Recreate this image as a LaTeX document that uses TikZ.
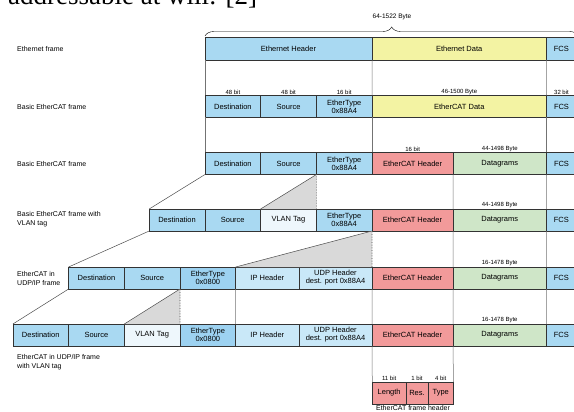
\documentclass[tikz,border=0pt]{standalone}
\usepackage{fontspec}
\setmainfont{Liberation Sans}
\newfontfamily\citefont{Liberation Serif}
\usetikzlibrary{positioning,decorations.pathreplacing}

\definecolor{ethblue}{HTML}{A9D9F2}
\definecolor{typeblue}{HTML}{9DD2F1}
\definecolor{ipblue}{HTML}{C9E8F8}
\definecolor{vlanblue}{HTML}{EEF7FC}
\definecolor{ethyellow}{HTML}{F3F3A3}
\definecolor{ecatred}{HTML}{F29A9A}
\definecolor{dgreen}{HTML}{CFE6C8}

\begin{document}
\begin{tikzpicture}[x=1pt,y=-1pt,node distance=0pt,
  box/.style={draw=black!80,line width=0.7pt,minimum height=22pt,inner sep=0.5pt,
    outer sep=0pt,align=center,font=\fontsize{7.5}{8}\selectfont},
  hdr/.style={box,fill=ethblue},
  etype/.style={box,fill=typeblue},
  ip/.style={box,fill=ipblue},
  vlan/.style={box,fill=vlanblue},
  dat/.style={box,fill=ethyellow},
  ecat/.style={box,fill=ecatred},
  dgram/.style={box,fill=dgreen},
  bits/.style={inner sep=0.8pt,font=\fontsize{6}{6}\selectfont},
  lbl/.style={anchor=west,inner sep=0pt,align=left,font=\fontsize{7}{9}\selectfont},
  link/.style={black!55,line width=0.5pt},
  slant/.style={black!70,line width=0.5pt},
  wedge/.style={fill=black!15},
  dots/.style={black!70,line width=0.6pt,densely dotted}]

  \useasboundingbox (0,0) rectangle (574,412);

  % text of the page above the figure
  \node[anchor=base west,inner sep=0pt,font=\citefont\fontsize{27}{27}\selectfont] (cite) at (8,5) {addressable at will: [2]};

  % Ethernet frame
  \node[hdr,minimum width=167,minimum height=22.5] (eh1) at (205,37.5) [anchor=north west] {Ethernet Header};
  \node[dat,minimum width=174.4,minimum height=22.5] (ed1) [right=of eh1] {Ethernet Data};
  \node[hdr,minimum width=30,minimum height=22.5] (f1) [right=of ed1] {FCS};

  \draw[decorate,decoration={brace,amplitude=9pt}] ([yshift=1.5pt]eh1.north west) -- ([shift={(2,-1.5)}]f1.north east);
  \node[bits,font=\fontsize{6.5}{6.5}\selectfont] (len) at (392,16.5) {64-1522 Byte};

  % basic EtherCAT frame
  \node[hdr,minimum width=55.7] (d2) at (205,95.5) [anchor=north west] {Destination};
  \node[hdr,minimum width=55.7] (s2) [right=of d2] {Source};
  \node[hdr,minimum width=55.7] (t2) [right=of s2] {EtherType\\0x88A4};
  \node[dat,minimum width=174.4] (dat2) [right=of t2] {EtherCAT Data};
  \node[hdr,minimum width=30] (f2) [right=of dat2] {FCS};

  \node[bits] (b2d) [above=of d2] {48 bit};
  \node[bits] (b2s) [above=of s2] {48 bit};
  \node[bits] (b2t) [above=of t2] {16 bit};
  \node[bits] (b2dat) [above=of dat2] {46-1500 Byte};
  \node[bits] (b2f) [above=of f2] {32 bit};

  % basic EtherCAT frame, header and datagrams
  \node[hdr,minimum width=55.7] (d3) at (205,152.5) [anchor=north west] {Destination};
  \node[hdr,minimum width=55.7] (s3) [right=of d3] {Source};
  \node[hdr,minimum width=55.7] (t3) [right=of s3] {EtherType\\0x88A4};
  \node[ecat,minimum width=81] (eh3) [right=of t3] {EtherCAT Header};
  \node[dgram,minimum width=93.4] (dg3) [right=of eh3] {Datagrams};
  \node[hdr,minimum width=30] (f3) [right=of dg3] {FCS};

  \node[bits] (b3eh) [above=of eh3] {16 bit};
  \node[bits] (b3dg) [above=of dg3] {44-1498 Byte};

  % with VLAN tag
  \node[hdr,minimum width=55.7] (d4) at (149.2,209) [anchor=north west] {Destination};
  \node[hdr,minimum width=55.7] (s4) [right=of d4] {Source};
  \node[vlan,minimum width=55.7] (v4) [right=of s4] {VLAN Tag};
  \node[hdr,minimum width=55.7] (t4) [right=of v4] {EtherType\\0x88A4};
  \node[ecat,minimum width=81] (eh4) [right=of t4] {EtherCAT Header};
  \node[dgram,minimum width=93.4] (dg4) [right=of eh4] {Datagrams};
  \node[hdr,minimum width=30] (f4) [right=of dg4] {FCS};

  \node[bits] (b4v) [above=of v4] {32 bit};
  \node[bits] (b4dg) [above=of dg4] {44-1498 Byte};

  % UDP/IP
  \node[hdr,minimum width=55.7] (d5) at (68.6,267) [anchor=north west] {Destination};
  \node[hdr,minimum width=55.7] (s5) [right=of d5] {Source};
  \node[etype,minimum width=55.7] (t5) [right=of s5] {EtherType\\0x0800};
  \node[ip,minimum width=63.3] (ip5) [right=of t5] {IP Header};
  \node[ip,minimum width=73] (udp5) [right=of ip5] {UDP Header\\dest. port 0x88A4};
  \node[ecat,minimum width=81] (eh5) [right=of udp5] {EtherCAT Header};
  \node[dgram,minimum width=93.4] (dg5) [right=of eh5] {Datagrams};
  \node[hdr,minimum width=30] (f5) [right=of dg5] {FCS};

  \node[bits,xshift=9pt] (b5ip) [above=of ip5] {160 bit};
  \node[bits,xshift=5pt] (b5udp) [above=of udp5] {64 bit};
  \node[bits] (b5dg) [above=of dg5] {16-1478 Byte};

  % UDP/IP with VLAN tag
  \node[hdr,minimum width=55.7] (d6) at (12.9,324) [anchor=north west] {Destination};
  \node[hdr,minimum width=55.7] (s6) [right=of d6] {Source};
  \node[vlan,minimum width=55.7] (v6) [right=of s6] {VLAN Tag};
  \node[etype,minimum width=55.7] (t6) [right=of v6] {EtherType\\0x0800};
  \node[ip,minimum width=63.3] (ip6) [right=of t6] {IP Header};
  \node[ip,minimum width=73] (udp6) [right=of ip6] {UDP Header\\dest. port 0x88A4};
  \node[ecat,minimum width=81] (eh6) [right=of udp6] {EtherCAT Header};
  \node[dgram,minimum width=93.4] (dg6) [right=of eh6] {Datagrams};
  \node[hdr,minimum width=30] (f6) [right=of dg6] {FCS};

  \node[bits] (b6dg) [above=of dg6] {16-1478 Byte};

  % EtherCAT frame header
  \node[ecat,minimum width=33.7] (len7) at (372.3,382) [anchor=north west] {Length};
  \node[ecat,minimum width=22] (res7) [right=of len7] {Res.};
  \node[ecat,minimum width=25.5] (typ7) [right=of res7] {Type};

  \node[bits] (b7l) [above=of len7] {11 bit};
  \node[bits] (b7r) [above=of res7] {1 bit};
  \node[bits] (b7t) [above=of typ7] {4 bit};
  \node[lbl,anchor=north] (cap7) at (413,405.5) {EtherCAT frame header};

  % row names
  \node[lbl] (lab1) at (17,49) {Ethernet frame};
  \node[lbl] (lab2) at (17,106.5) {Basic EtherCAT frame};
  \node[lbl] (lab3) at (17,163.5) {Basic EtherCAT frame};
  \node[lbl] (lab4) at (17,219.5) {Basic EtherCAT frame with\\VLAN tag};
  \node[lbl] (lab5) at (17,278.5) {EtherCAT in\\UDP/IP frame};
  \node[lbl] (lab6) at (17,362) {EtherCAT in UDP/IP frame\\with VLAN tag};

  % inserted fields
  \fill[wedge] (t3.south west) -- (v4.north west) -- (v4.north east) -- cycle;
  \draw[slant] (t3.south west) -- (v4.north west);
  \draw[dots] (t3.south west) -- (v4.north east);
  \draw[slant] (d3.south west) -- (d4.north west);

  \fill[wedge] (t4.south east) -- (ip5.north west) -- (udp5.north east) -- cycle;
  \draw[slant] (t4.south east) -- (ip5.north west);
  \draw[dots] (t4.south east) -- (udp5.north east);
  \draw[slant] (d4.south west) -- (d5.north west);

  \fill[wedge] (s5.south east) -- (v6.north west) -- (v6.north east) -- cycle;
  \draw[slant] (s5.south east) -- (v6.north west);
  \draw[dots] (s5.south east) -- (v6.north east);
  \draw[slant] (d5.south west) -- (d6.north west);

  % field boundaries between rows
  \draw[link] (eh1.south west) -- (d2.north west);
  \draw[link] (eh1.south east) -- (t2.north east);
  \draw[link] (ed1.south east) -- (dat2.north east);
  \draw[link] (d2.south west) -- (d3.north west);
  \draw[link] (t2.south east) -- (t3.north east);
  \draw[link] (dat2.south east) -- (dg3.north east);
  \draw[link] (eh3.south east) -- (eh4.north east);
  \draw[link] (dg3.south east) -- (dg4.north east);
  \draw[link] (eh4.south east) -- (eh5.north east);
  \draw[link] (dg4.south east) -- (dg5.north east);
  \draw[link] (t5.south east) -- (t6.north east);
  \draw[link] (udp5.south east) -- (udp6.north east);
  \draw[link] (eh5.south east) -- (eh6.north east);
  \draw[link] (dg5.south east) -- (dg6.north east);
  \draw[link] (udp6.south east) -- (len7.north west);
  \draw[link] (eh6.south east) -- (typ7.north east);
\end{tikzpicture}
\end{document}
